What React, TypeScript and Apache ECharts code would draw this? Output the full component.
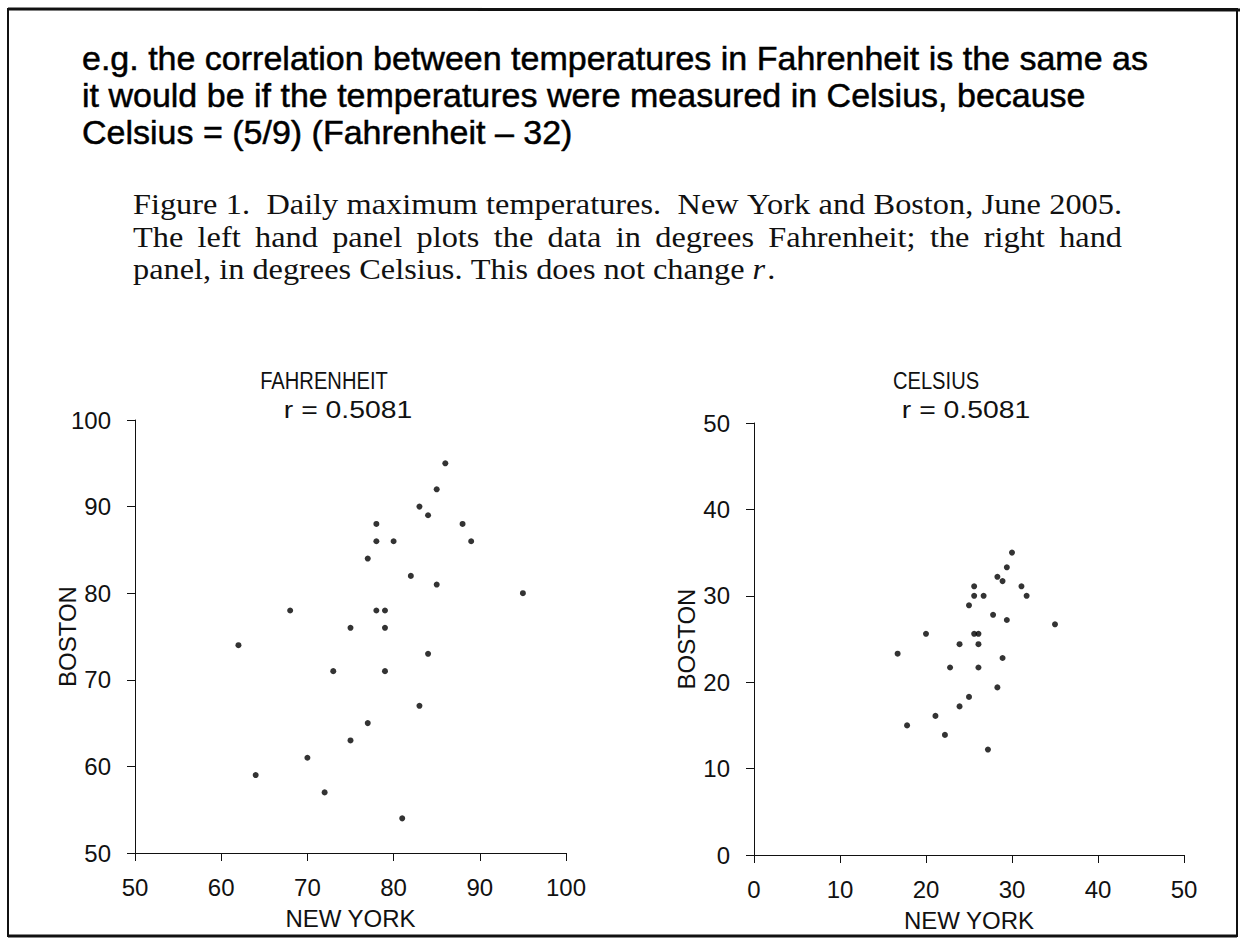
import React, { useEffect, useRef } from "react";
import * as echarts from "echarts";

// Daily maximum temperatures, June 2005
const newYorkF = [86, 85, 83, 84, 78, 88, 78, 80, 89, 77, 82, 85, 95, 68, 78, 79, 75, 79, 62, 84, 73, 79, 83, 77, 75, 70, 64, 72, 81];
const bostonF = [95, 92, 90, 89, 88, 88, 86, 86, 86, 84, 82, 81, 80, 78, 78, 78, 76, 76, 74, 73, 71, 71, 67, 65, 63, 61, 59, 57, 54];
const newYorkC = [30.0, 29.4, 28.3, 28.9, 25.6, 31.1, 25.6, 26.7, 31.7, 25.0, 27.8, 29.4, 35.0, 20.0, 25.6, 26.1, 23.9, 26.1, 16.7, 28.9, 22.8, 26.1, 28.3, 25.0, 23.9, 21.1, 17.8, 22.2, 27.2];
const bostonC = [35.0, 33.3, 32.2, 31.7, 31.1, 31.1, 30.0, 30.0, 30.0, 28.9, 27.8, 27.2, 26.7, 25.6, 25.6, 25.6, 24.4, 24.4, 23.3, 22.8, 21.7, 21.7, 19.4, 18.3, 17.2, 16.1, 15.0, 13.9, 12.2];

const fahrenheitRange = [50, 100];
const celsiusRange = [0, 50];
const tickStep = 10;

const headlineLines = [
  "e.g. the correlation between temperatures in Fahrenheit is the same as",
  "it would be if the temperatures were measured in Celsius, because",
  "Celsius = (5/9) (Fahrenheit \u2013 32)",
];
const captionLines = [
  "Figure 1.  Daily maximum temperatures.  New York and Boston, June 2005.",
  "The left hand panel plots the data in degrees Fahrenheit; the right hand",
  "panel, in degrees Celsius. This does not change",
];
const captionItalic = "r";
const captionEnd = ".";
const panelTitles = ["FAHRENHEIT", "CELSIUS"];
const rText = "r = 0.5081";
const xName = "NEW YORK";
const yName = "BOSTON";

const SANS = "'Liberation Sans', Arial, sans-serif";
const SERIF = "'Liberation Serif', 'Times New Roman', serif";

function measurer() {
  const c = document.createElement("canvas").getContext("2d")!;
  return (t: string, font: string) => {
    c.font = font;
    return c.measureText(t).width;
  };
}

export default function App() {
  const ref = useRef<HTMLDivElement>(null);
  useEffect(() => {
    document.body.style.margin = "0";
    if (!ref.current) return;
    const chart = echarts.init(ref.current, undefined, { renderer: "svg" });
    const measure = measurer();

    const axisCommon = {
      axisLine: { show: true, onZero: false, lineStyle: { color: "#111", width: 1 } },
      axisTick: { show: true, inside: false, length: 8, lineStyle: { color: "#111", width: 1 } },
      splitLine: { show: false },
      nameMoveOverlap: false,
      nameTextStyle: { fontFamily: SANS, fontSize: 24, color: "#111" },
    };
    const xAxis = (idx: number, range: number[]) => ({
      ...axisCommon,
      type: "value",
      gridIndex: idx,
      min: range[0],
      max: range[1],
      interval: tickStep,
      name: xName,
      nameLocation: "middle",
      nameGap: 53,
      axisLabel: { fontFamily: SANS, fontSize: 24, color: "#111", margin: 22 },
    });
    const yAxis = (idx: number, range: number[]) => ({
      ...axisCommon,
      type: "value",
      gridIndex: idx,
      min: range[0],
      max: range[1],
      interval: tickStep,
      name: yName,
      nameLocation: "middle",
      nameRotate: 90,
      nameGap: 56,
      axisLabel: { fontFamily: SANS, fontSize: 24, color: "#111", margin: 24 },
    });

    const texts: any[] = [];
    headlineLines.forEach((t, i) => {
      texts.push({
        type: "text",
        x: 82,
        y: 58 + i * 37,
        style: {
          text: t,
          font: `34px ${SANS}`,
          fill: "#000",
          stroke: "#000",
          lineWidth: 0.5,
          textAlign: "left",
          textVerticalAlign: "middle",
        },
      });
    });

    // caption, justified like the printed figure
    const capSize = 29;
    const capScale = 1.115;
    const capFont = `${capSize}px ${SERIF}`;
    const capLeft = 133;
    const capRight = 1122;
    const capY = [205, 238, 270];
    captionLines.forEach((line, li) => {
      const parts = line.split(/( +)/);
      const words: string[] = [];
      const gaps: number[] = [];
      parts.forEach((p, k) => {
        if (k % 2 === 0) words.push(p);
        else gaps.push(measure(p, capFont) * capScale);
      });
      const wordW = words.map((w) => measure(w, capFont) * capScale);
      const natural = wordW.reduce((a, b) => a + b, 0) + gaps.reduce((a, b) => a + b, 0);
      const justify = li < 2;
      const extra = justify && gaps.length ? (capRight - capLeft - natural) / gaps.length : 0;
      let x = capLeft;
      words.forEach((w, k) => {
        texts.push({
          type: "text",
          x,
          y: capY[li],
          scaleX: capScale,
          style: { text: w, font: capFont, fill: "#111", textAlign: "left", textVerticalAlign: "middle" },
        });
        x += wordW[k];
        if (k < gaps.length) x += gaps[k] + extra;
      });
      if (li === 2) {
        x += measure(" ", capFont) * capScale;
        const itFont = `italic ${capSize}px ${SERIF}`;
        texts.push({
          type: "text",
          x,
          y: capY[li],
          scaleX: capScale,
          style: { text: captionItalic, font: itFont, fill: "#111", textAlign: "left", textVerticalAlign: "middle" },
        });
        x += measure(captionItalic, itFont) * capScale + 2;
        texts.push({
          type: "text",
          x,
          y: capY[li],
          scaleX: capScale,
          style: { text: captionEnd, font: capFont, fill: "#111", textAlign: "left", textVerticalAlign: "middle" },
        });
      }
    });

    const titleCenters = [324, 936];
    const rCenters = [348, 966];
    panelTitles.forEach((t, i) => {
      texts.push({
        type: "text",
        x: titleCenters[i],
        y: 381,
        scaleX: 0.84,
        style: { text: t, font: `24px ${SANS}`, fill: "#111", textAlign: "center", textVerticalAlign: "middle" },
      });
      texts.push({
        type: "text",
        x: rCenters[i],
        y: 410,
        scaleX: 1.18,
        style: { text: rText, font: `24px ${SANS}`, fill: "#111", textAlign: "center", textVerticalAlign: "middle" },
      });
    });

    const option: any = {
      animation: false,
      backgroundColor: "#ffffff",
      grid: [
        { left: 135, top: 420, width: 431, height: 433 },
        { left: 754, top: 423, width: 430, height: 432 },
      ],
      xAxis: [xAxis(0, fahrenheitRange), xAxis(1, celsiusRange)],
      yAxis: [yAxis(0, fahrenheitRange), yAxis(1, celsiusRange)],
      series: [
        {
          type: "scatter",
          xAxisIndex: 0,
          yAxisIndex: 0,
          symbol: "circle",
          symbolSize: 6,
          itemStyle: { color: "#000" },
          data: newYorkF.map((v, i) => [v, bostonF[i]]),
        },
        {
          type: "scatter",
          xAxisIndex: 1,
          yAxisIndex: 1,
          symbol: "circle",
          symbolSize: 6,
          itemStyle: { color: "#000" },
          data: newYorkC.map((v, i) => [v, bostonC[i]]),
        },
      ],
      graphic: [
        { type: "rect", shape: { x: 8, y: 9, width: 1229, height: 927 }, style: { fill: "none", stroke: "#111", lineWidth: 2 } },
        { type: "line", shape: { x1: 8, y1: 9, x2: 1240, y2: 10 }, style: { stroke: "#111", lineWidth: 3 } },
        { type: "line", shape: { x1: 8, y1: 936, x2: 1237, y2: 936 }, style: { stroke: "#111", lineWidth: 3 } },
        ...texts,
      ],
    };
    chart.setOption(option);
    return () => chart.dispose();
  }, []);
  return <div ref={ref} style={{ width: 1240, height: 940 }} />;
}
